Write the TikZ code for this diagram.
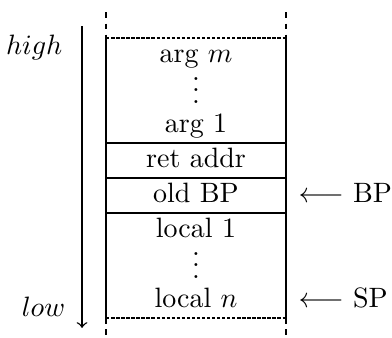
\documentclass[tikz,border=0pt]{standalone}
\usetikzlibrary{positioning}

\begin{document}
\begin{tikzpicture}[x=1pt, y=1pt, line width=0.5pt,
    cell/.style={minimum width=64.2pt, minimum height=12.5pt, inner sep=0pt, outer sep=0pt, text height=7pt, text depth=2pt},
    dotcell/.style={cell, text height=9pt, text depth=0pt},
    ptr/.style={text height=7pt, text depth=2pt},
    tail/.style={dash pattern=on 2pt off 2pt},
    rim/.style={dash pattern=on 1.2pt off 0.6pt}]
    \useasboundingbox (0,0) rectangle (140,-120.7);
    % the frame, one row per slot
    \node[cell] (argm) at (70,-19.85) {arg $m$};
    \node[dotcell, below=0pt of argm] (argdots) {$\vdots$};
    \node[cell, below=0pt of argdots] (arg1) {arg 1};
    \node[cell, below=0pt of arg1] (ret) {ret addr};
    \node[cell, below=0pt of ret] (oldbp) {old BP};
    \node[cell, below=0pt of oldbp] (loc1) {local 1};
    \node[dotcell, below=0pt of loc1] (locdots) {$\vdots$};
    \node[cell, below=0pt of locdots] (locn) {local $n$};
    % sides and separators
    \draw (argm.north west) -- (locn.south west);
    \draw (argm.north east) -- (locn.south east);
    \draw (arg1.south west) -- (arg1.south east);
    \draw (ret.south west) -- (ret.south east);
    \draw (oldbp.south west) -- (oldbp.south east);
    \draw[rim] (argm.north west) -- (argm.north east);
    \draw[rim] (locn.south west) -- (locn.south east);
    % stack continues above and below
    \coordinate[above=9.2pt of argm.north west] (tl);
    \coordinate[above=9.2pt of argm.north east] (tr);
    \coordinate[below=8pt of locn.south west] (bl);
    \coordinate[below=8pt of locn.south east] (br);
    \draw[tail] (tl) -- (argm.north west);
    \draw[tail] (tr) -- (argm.north east);
    \draw[tail] (locn.south west) -- (bl);
    \draw[tail] (locn.south east) -- (br);
    % address direction
    \coordinate (hi) at (29.3,-9.3);
    \coordinate (lo) at (29.3,-117.1);
    \draw[->] (hi) -- (lo);
    \node[anchor=base east, inner sep=0pt] (high) at (22.5,-19.4) {$high$};
    \node[anchor=base east, inner sep=0pt] (low) at (23.5,-113.2) {$low$};
    % pointer registers
    \node[ptr, right=1pt of oldbp] (bp) {$\longleftarrow$ BP};
    \node[ptr, right=1pt of locn] (sp) {$\longleftarrow$ SP};
\end{tikzpicture}
\end{document}
